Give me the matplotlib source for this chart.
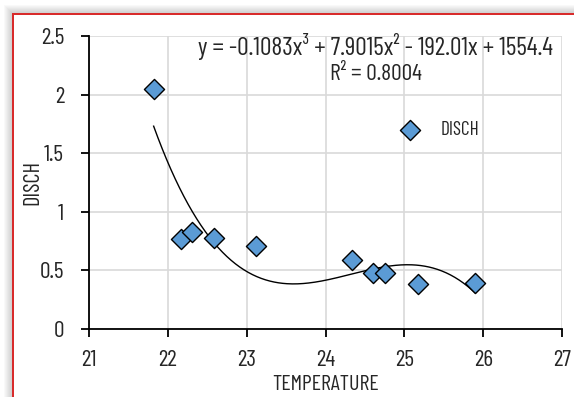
import numpy as np
import matplotlib
matplotlib.use("Agg")
import matplotlib.pyplot as plt
from matplotlib import font_manager

names = {f.name for f in font_manager.fontManager.ttflist}
prefs = ['Barlow Condensed', 'Sofia Sans Condensed', 'Saira Condensed', 'PT Sans Narrow', 'Roboto Condensed', 'Liberation Sans']
chosen = next(p for p in prefs if p in names)
plt.rcParams['font.family'] = [chosen, 'DejaVu Sans']
plt.rcParams['font.weight'] = 'normal'
plt.rcParams['axes.labelweight'] = 'normal'

temperature = [21.82, 22.17, 22.31, 22.58, 23.12, 24.33, 24.6, 24.75, 25.17, 25.9]
disch = [2.05, 0.77, 0.83, 0.78, 0.71, 0.59, 0.48, 0.48, 0.38, 0.39]
xticks = [21, 22, 23, 24, 25, 26, 27]
yticks = [0, 0.5, 1, 1.5, 2, 2.5]
yticklabels = ['0', '0.5', '1', '1.5', '2', '2.5']
eq_text = "y = -0.1083x³ + 7.9015x² - 192.01x + 1554.4"
r2_text = "R² = 0.8004"
series_name = 'DISCH'
xlabel = 'TEMPERATURE'
ylabel = 'DISCH'

W, H = 574, 397
fig = plt.figure(figsize=(W / 100, H / 100), dpi=100)
renderer = fig.canvas.get_renderer()
TXT = '#262626'


def fit_size(s, target_px):
    t = fig.text(0, 0, s, fontsize=10)
    w = t.get_window_extent(renderer).width
    t.remove()
    return 10 * target_px / w


# background: white page with soft shadow and red border
yy, xx = np.mgrid[0:H, 0:W]
dist = np.maximum(13 - xx, 14 - yy).astype(float)
val = np.where(dist > 0, np.clip(1 - dist / 10.0, 0, 1), 0)
gray = 1 - 0.22 * val
gray[(xx >= 13) & (yy >= 14)] = 1.0
bg = np.dstack([gray, gray, gray])
bg[13:15, 12:, :] = [0.85, 0.17, 0.17]
bg[13:, 12:14, :] = [0.85, 0.17, 0.17]
fig.figimage(bg, xo=0, yo=0, origin='upper', zorder=-5)

ax = fig.add_axes([89 / W, 1 - 329 / H, (562 - 89) / W, (329 - 36) / H])
ax.set_facecolor('none')

x = np.array(temperature)
y = np.array(disch)
coef = np.polyfit(x, y, 3)
xs = np.linspace(x.min(), x.max(), 300)
ax.plot(xs, np.polyval(coef, xs), color='black', lw=1.0, zorder=2)
pts = ax.scatter(x, y, marker='D', s=105, facecolor='#5b9bd5', edgecolor='black', linewidth=1.0, zorder=3,
                 label=series_name)

tick_fs = fit_size('2.5', 23)
ax.set_xlim(21, 27)
ax.set_ylim(0, 2.5)
ax.set_xticks(xticks)
ax.set_xticklabels([str(t) for t in xticks])
ax.set_yticks(yticks)
ax.set_yticklabels(yticklabels)
ax.grid(True, color='#d9d9d9', lw=1.2)
ax.set_axisbelow(True)
for s in ['top', 'right']:
    ax.spines[s].set_visible(False)
for s in ['left', 'bottom']:
    ax.spines[s].set_linewidth(1.3)
    ax.spines[s].set_color('black')
ax.tick_params(axis='both', direction='out', length=6, width=1.3, labelsize=tick_fs, labelcolor=TXT, color='black')
ax.tick_params(axis='x', pad=9)
ax.tick_params(axis='y', pad=12)

xl_fs = fit_size(xlabel, 107)
yl_fs = fit_size(ylabel, 45)
ax.set_xlabel(xlabel, fontsize=xl_fs, color=TXT)
ax.set_ylabel(ylabel, fontsize=yl_fs, color=TXT)
ax.xaxis.set_label_coords(0.5, (329 - 384) / (329 - 36), transform=ax.transAxes)
ax.xaxis.label.set_va('center')
ax.yaxis.set_label_coords((32.5 - 89) / (562 - 89), 0.5, transform=ax.transAxes)
ax.yaxis.label.set_va('center')

eq_fs = fit_size(eq_text, 352)
r2_fs = fit_size(r2_text, 92)
fig.text(376 / W, 1 - 46 / H, eq_text, ha='center', va='center', fontsize=eq_fs, color=TXT)
fig.text(376 / W, 1 - 75 / H, r2_text, ha='center', va='center', fontsize=r2_fs, color=TXT)

lg_fs = fit_size(series_name, 39)
leg = ax.legend(handles=[pts], labels=[series_name],
                loc='center left', bbox_to_anchor=((400 - 89) / (562 - 89), 1 - (130 - 36) / (329 - 36)),
                frameon=False, fontsize=lg_fs, handletextpad=1.1, borderaxespad=0, borderpad=0,
                handlelength=1.0)
for t in leg.get_texts():
    t.set_color(TXT)

fig.savefig('out.png', dpi=100)
